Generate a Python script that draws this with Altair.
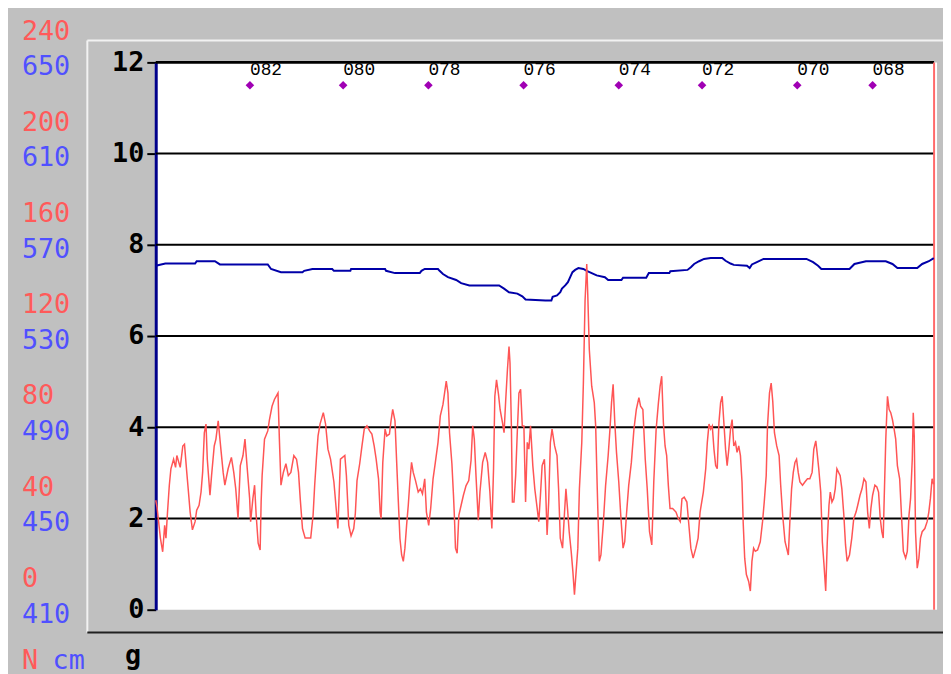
import altair as alt
import pandas as pd

# ---------------- data ----------------
# red trace (force, plotted on the 0..12 scale)
red_x = [0, 1.3, 4.7, 7, 9, 10.3, 12, 13.7, 15.3, 18, 20, 21.3, 24.7, 27.3, 29, 31.3, 33, 34.7, 37, 39.7,
         41.3, 43.7, 45.7, 47.3, 49, 50.7, 52, 54.7, 56.3, 59, 60.7, 63, 65.7, 68, 69.7, 73, 76.3, 78.7,
         80.7, 83, 85.3, 88, 90, 92.3, 94.7, 95.7, 98, 99.7, 101.3, 103.3, 105.3, 106.3, 107.3, 109.7,
         113, 114.7, 117.3, 119.7, 123.3, 124.7, 126.3, 128.7, 131.3, 133.7, 136.3, 139.3, 142, 144,
         145.7, 148, 150.7, 156.3, 158.7, 160.3, 162, 163.7, 165.7, 169, 171.3, 173.7, 176.3, 179.7,
         183.7, 186.3, 190.7, 192.3, 194.7, 197, 199.7, 201.3, 203, 205.7, 208, 210.3, 213, 215.7, 218,
         220.3, 222.3, 224.7, 226.3, 227.3, 229, 231.3, 233, 235.7, 237.3, 239, 241.3, 243, 244.7, 246.3,
         248, 249.7, 251.3, 253, 254.7, 256.3, 258, 259.7, 262, 264.7, 267, 269, 271.3, 273, 275.3,
         277.3, 279.7, 282, 284.7, 287, 289.7, 291.3, 293, 294.7, 296.3, 298.7, 300.3, 301.3, 302.3, 304,
         305.7, 308, 310.3, 313, 315.7, 318, 319.7, 321.3, 323, 325.3, 327, 329.7, 332.3, 334.7, 337, 339,
         340.7, 342, 343.7, 345.7, 347.3, 349.7, 351.3, 353, 354.7, 356.3, 357.3, 358.7, 359.7, 361.3,
         363, 364.7, 366.3, 368, 369.7, 371.3, 373, 374.7, 376.3, 378, 380.3, 382.3, 384.7, 386.3, 388,
         389.7, 392, 393, 394.7, 396.3, 398, 399.7, 402.3, 404.7, 406.3, 408, 410.3, 412.3, 413.7, 415.3,
         417, 419, 420.7, 422.3, 424, 425.7, 427.3, 429.7, 431.3, 433, 434.7, 435.7, 437.3, 439.7, 442.3,
         443.7, 445.3, 447.3, 449, 451.3, 453.7, 456.3, 458, 459.7, 461.3, 463, 464.7, 467, 469, 471.3,
         473, 474.7, 477, 479.7, 482.3, 484.7, 487.3, 489, 491.3, 493.7, 495.7, 498, 500.3, 502.3, 504.7,
         507, 508.7, 510.3, 512, 513.7, 515.3, 517, 518.7, 521.3, 524.7, 527, 529, 530.7, 533, 535.7, 538,
         539.7, 542, 544.7, 547, 549, 552.3, 554.7, 556.3, 558, 559.7, 561.3, 563, 564.7, 566.3, 568,
         569.7, 571.3, 573, 574.7, 576.3, 578, 579.7, 581.3, 583, 584.7, 586.3, 588, 589.7, 591.3, 592.5,
         594, 595.7, 598, 599.7, 601.3, 603, 604.7, 607, 609.7, 612, 613.7, 615.7, 617, 619, 620.7,
         622.3, 624, 626.3, 628.7, 630.3, 632.3, 634.7, 636.3, 638, 639.7, 641.3, 643, 644.7, 646.3, 648,
         649.7, 652.3, 654.7, 657.3, 659.7, 662, 663.7, 665.7, 667, 668.7, 670.7, 672.3, 674, 675.7, 677.3,
         679, 680.3, 682, 683.7, 685.3, 687, 688.7, 690.3, 692, 694, 695.7, 697.3, 699.7, 702, 704, 706.3,
         708, 710.3, 712.3, 714.3, 716.3, 718, 719.7, 721.3, 723, 725.3, 727.3, 729, 730.7, 732.3, 733.7,
         734.7, 736.3, 738, 739.7, 741.3, 743, 744.7, 746.3, 748, 750.3, 752.3, 754, 756.3, 758, 759.7,
         761.3, 763, 764, 765, 766.3, 768, 769.7, 771.3, 773, 775.7, 778, 779.7, 781.3, 783, 784.5]
red_v = [2.40, 2.25, 1.57, 1.27, 1.85, 1.57, 2.18, 2.73, 3.09, 3.30, 3.12, 3.38, 3.12, 3.59, 3.63, 3.01,
         2.58, 2.14, 1.75, 1.93, 2.18, 2.29, 2.58, 3.01, 3.88, 4.07, 3.30, 2.51, 2.94, 3.59, 3.74, 4.14,
         3.52, 3.01, 2.73, 3.09, 3.34, 3.01, 2.65, 2.00, 3.16, 3.38, 3.74, 3.09, 2.44, 1.93, 2.44, 2.73,
         2.07, 1.46, 1.31, 2.36, 2.94, 3.74, 3.92, 4.17, 4.46, 4.61, 4.75, 3.74, 2.73, 3.01, 3.20, 2.94,
         3.01, 3.38, 3.30, 3.01, 2.44, 1.78, 1.57, 1.57, 2.07, 2.73, 3.30, 3.81, 4.07, 4.32, 4.07, 3.52,
         3.30, 2.80, 1.78, 3.30, 3.38, 2.94, 1.85, 1.62, 1.78, 2.11, 2.83, 3.20, 3.59, 3.96, 4.03, 3.92,
         3.85, 3.59, 3.30, 2.87, 2.14, 2.00, 3.23, 3.96, 3.81, 3.85, 4.14, 4.39, 4.14, 3.23, 2.36, 1.56,
         1.20, 1.06, 1.35, 1.85, 2.29, 2.80, 3.23, 3.01, 2.83, 2.58, 2.65, 2.54, 2.87, 2.14, 1.85, 2.22,
         2.87, 3.23, 3.67, 4.25, 4.50, 4.75, 5.01, 4.75, 3.88, 3.20, 2.51, 2.00, 1.35, 1.24, 2.07, 2.29,
         2.51, 2.72, 2.83, 3.27, 4.03, 3.74, 2.94, 1.96, 2.58, 3.23, 3.45, 3.23, 2.58, 1.78, 3.09, 4.68,
         5.04, 4.72, 4.39, 4.10, 3.88, 4.61, 5.26, 5.77, 5.41, 4.03, 2.36, 2.36, 2.94, 3.92, 4.75, 4.83,
         4.03, 4.03, 2.36, 3.67, 3.52, 4.03, 3.16, 2.65, 2.22, 1.93, 2.51, 3.16, 3.30, 2.80, 1.64, 2.36,
         3.67, 3.96, 3.59, 3.38, 2.65, 1.57, 1.35, 2.14, 2.65, 2.22, 1.71, 1.28, 0.84, 0.33, 0.84, 1.35,
         2.65, 3.67, 4.97, 6.78, 7.58, 6.93, 5.70, 4.90, 4.54, 4.03, 2.65, 1.06, 1.20, 1.86, 2.72, 3.38,
         3.92, 4.54, 4.94, 4.10, 3.45, 2.80, 2.07, 1.35, 1.49, 2.07, 2.72, 3.23, 3.96, 4.39, 4.65, 4.46,
         4.39, 3.30, 2.65, 1.71, 1.42, 2.80, 3.96, 4.54, 4.90, 5.12, 4.10, 3.59, 3.38, 2.72, 2.22, 2.22,
         2.14, 2.00, 1.93, 2.43, 2.47, 2.36, 1.78, 1.35, 1.13, 1.35, 1.57, 2.14, 2.58, 3.09, 3.67, 4.07,
         3.96, 4.03, 3.52, 3.16, 3.09, 4.10, 4.54, 4.68, 4.10, 3.52, 3.16, 3.52, 3.96, 4.17, 3.59, 3.67,
         3.45, 3.59, 3.38, 2.80, 1.90, 1.13, 0.77, 0.62, 0.41, 1.06, 1.35, 1.28, 1.31, 1.49, 1.93,
         2.36, 2.94, 4.03, 4.75, 4.97, 4.57, 3.88, 3.59, 3.38, 2.73, 2.07, 1.49, 1.35, 1.20, 2.00, 2.65,
         3.01, 3.23, 3.30, 3.01, 2.80, 2.73, 2.80, 2.87, 2.87, 3.01, 3.52, 3.70, 3.45, 3.09, 2.58, 1.49,
         0.98, 0.41, 1.49, 2.29, 2.58, 2.36, 2.44, 2.65, 3.09, 3.01, 2.94, 2.65, 2.07, 1.42, 1.06, 1.20,
         1.57, 2.00, 2.14, 2.29, 2.51, 2.65, 2.87, 2.80, 2.14, 1.78, 2.22, 2.51, 2.73, 2.69, 2.58, 2.00,
         1.71, 1.57, 2.44, 3.74, 4.68, 4.39, 4.32, 4.17, 3.96, 3.74, 3.16, 2.87, 2.00, 1.28, 1.13, 1.28,
         2.07, 2.44, 3.30, 4.32, 3.81, 1.71, 0.91, 1.13, 1.57, 1.71, 1.78, 1.93, 2.14, 2.44, 2.87, 2.75]

# blue trace (depth, plotted on the 0..12 scale)
blue_x = [0, 9.7, 39.7, 41.3, 59.7, 64.7, 113, 116.3, 126.3, 148, 149.7, 158, 178, 179.7, 196.3, 197,
          231.3, 232.3, 241.3, 266.3, 268, 271.3, 284.7, 286.3, 289.7, 294.7, 303, 308, 316.3, 346.3,
          351.3, 356.3, 364.7, 369.7, 373, 393, 399, 400.3, 404.7, 408, 409.7, 413, 415.7, 418, 420.3,
          423, 426.3, 431.3, 434.7, 439.7, 444.7, 453, 456.3, 469.7, 471.3, 494.7, 497.3, 518, 519,
          536.3, 539.7, 543, 548, 553, 559.7, 571.3, 574.7, 579.7, 583, 596.3, 599, 601.3, 606.3, 613,
          656.3, 663, 668, 671.3, 699.7, 704.7, 716.3, 736.3, 743, 748, 768, 773, 779.7, 784.7]
blue_v = [7.54, 7.59, 7.59, 7.64, 7.64, 7.57, 7.57, 7.47, 7.40, 7.40, 7.43, 7.47, 7.47, 7.43, 7.43, 7.47,
          7.47, 7.43, 7.38, 7.38, 7.43, 7.47, 7.47, 7.43, 7.36, 7.29, 7.23, 7.16, 7.11, 7.11, 7.04, 6.96,
          6.93, 6.87, 6.80, 6.78, 6.78, 6.86, 6.89, 6.96, 7.04, 7.11, 7.18, 7.29, 7.40, 7.45, 7.49, 7.47,
          7.43, 7.38, 7.33, 7.29, 7.23, 7.23, 7.28, 7.28, 7.38, 7.38, 7.42, 7.45, 7.51, 7.58, 7.64, 7.69,
          7.71, 7.71, 7.65, 7.59, 7.56, 7.54, 7.49, 7.57, 7.62, 7.69, 7.69, 7.62, 7.54, 7.47, 7.47, 7.58,
          7.64, 7.64, 7.58, 7.49, 7.49, 7.58, 7.64, 7.71]

# station markers
marker_x = [95, 189, 275, 371, 467, 551, 647, 723]
marker_labels = ["082", "080", "078", "076", "074", "072", "070", "068"]
marker_level = 11.5
marker_label_level = 11.72

# axes
tick_vals = [0, 2, 4, 6, 8, 10, 12]
grid_vals = [2, 4, 6, 8, 10, 12]
grid_widths = [2, 2, 2, 2, 2, 3]
force_labels = ["0", "40", "80", "120", "160", "200", "240"]
depth_labels = ["410", "450", "490", "530", "570", "610", "650"]
x_end = 785
x_max = 788

# ---------------- chart ----------------
FONT = "DejaVu Sans Mono"
GRAY = "#c0c0c0"

red_df = pd.DataFrame({"x": red_x, "v": red_v})
blue_df = pd.DataFrame({"x": blue_x, "v": blue_v})
mark_df = pd.DataFrame({"x": marker_x, "lab": marker_labels,
                        "v": [marker_level] * len(marker_x),
                        "vl": [marker_label_level] * len(marker_x)})
grid_df = pd.DataFrame({"v": grid_vals, "w": grid_widths, "x0": [0] * 6, "x1": [x_end] * 6})
lab_df = pd.DataFrame({"v": tick_vals, "force": force_labels, "depth": depth_labels})
end_df = pd.DataFrame({"x": [x_end], "v0": [0], "v1": [12]})
dummy = alt.Data(values=[{"a": 1}])

xs = alt.Scale(domain=[0, x_max], nice=False, zero=False)
ys = alt.Scale(domain=[0, 12], nice=False, zero=True)
yaxis = alt.Axis(values=tick_vals, title=None, grid=False, labelFont=FONT, labelFontSize=27,
                 labelFontWeight="bold", labelColor="black", tickColor="black", tickSize=9,
                 tickWidth=2, domainColor="#00008b", domainWidth=3, labelPadding=3,
                 labelOverlap=False, labelFlush=False)


def X(f):
    return alt.X(f, scale=xs, axis=None)


def Y(f):
    return alt.Y(f, scale=ys, axis=yaxis)


grid = alt.Chart(grid_df).mark_rule(color="black").encode(
    x=X("x0:Q"), x2="x1:Q", y=Y("v:Q"),
    strokeWidth=alt.StrokeWidth("w:Q", scale=None, legend=None))

end_line = alt.Chart(end_df).mark_rule(color="#ff6a6a", strokeWidth=2).encode(
    x=X("x:Q"), y=Y("v0:Q"), y2="v1:Q")

red = alt.Chart(red_df).mark_line(color="#ff5555", strokeWidth=1.5).encode(
    x=X("x:Q"), y=Y("v:Q"), order="x:Q")

blue = alt.Chart(blue_df).mark_line(color="#0000a8", strokeWidth=2).encode(
    x=X("x:Q"), y=Y("v:Q"), order="x:Q")

diamonds = alt.Chart(mark_df).mark_point(shape="diamond", filled=True, size=75,
                                         color="#a000b4", opacity=1).encode(
    x=X("x:Q"), y=Y("v:Q"))

diamond_text = alt.Chart(mark_df).mark_text(align="left", baseline="alphabetic",
                                            font="Liberation Mono", fontSize=18,
                                            color="black").encode(
    x=X("x:Q"), y=Y("vl:Q"), text="lab:N")

force_text = alt.Chart(lab_df).mark_text(align="left", baseline="middle", font=FONT, fontSize=27,
                                         color="#ff5a5a", dy=-31).encode(
    x=alt.value(-135), y=Y("v:Q"), text="force:N")

depth_text = alt.Chart(lab_df).mark_text(align="left", baseline="middle", font=FONT, fontSize=27,
                                         color="#5050ff", dy=5).encode(
    x=alt.value(-135), y=Y("v:Q"), text="depth:N")

# sunken panel frame
panel_top = alt.Chart(dummy).mark_rule(color="#f2f2f2", strokeWidth=2).encode(
    x=alt.value(-69), x2=alt.value(794), y=alt.value(-22))
panel_left = alt.Chart(dummy).mark_rule(color="#f2f2f2", strokeWidth=2).encode(
    x=alt.value(-69), y=alt.value(-22), y2=alt.value(575))
panel_bottom = alt.Chart(dummy).mark_rule(color="#202020", strokeWidth=2).encode(
    x=alt.value(-69), x2=alt.value(794), y=alt.value(575))

unit_n = alt.Chart(dummy).mark_text(align="left", baseline="alphabetic", font=FONT, fontSize=27,
                                    color="#ff5a5a", text="N").encode(
    x=alt.value(-135), y=alt.value(612))
unit_cm = alt.Chart(dummy).mark_text(align="left", baseline="alphabetic", font=FONT, fontSize=27,
                                     color="#5050ff", text="cm").encode(
    x=alt.value(-104), y=alt.value(612))
unit_g = alt.Chart(dummy).mark_text(align="left", baseline="alphabetic", font=FONT, fontSize=27,
                                    fontWeight="bold", color="black", text="g").encode(
    x=alt.value(-31), y=alt.value(607))

chart = alt.layer(
    panel_top, panel_left, panel_bottom,
    grid, end_line, blue, red, diamonds, diamond_text,
    force_text, depth_text, unit_n, unit_cm, unit_g,
).properties(
    width=x_max, height=552,
    autosize=alt.AutoSizeParams(type="none"),
    padding={"left": 149, "top": 52, "right": 6, "bottom": 62},
    background=GRAY,
).configure_view(fill="white", stroke=None)

chart.save("out.html", embed_options={"renderer": "svg", "actions": False})
